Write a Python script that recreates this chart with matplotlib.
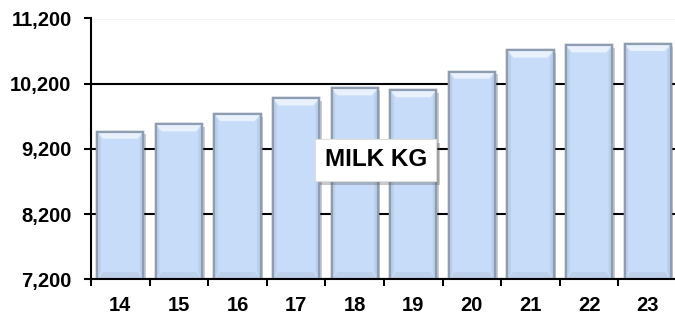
import numpy as np
import matplotlib
matplotlib.use("Agg")
import matplotlib.pyplot as plt
from matplotlib.patches import Polygon
from matplotlib import patheffects as pe

plt.rcParams['font.family'] = ['Liberation Sans', 'DejaVu Sans']

# data
categories = ['14', '15', '16', '17', '18', '19', '20', '21', '22', '23']
milk_kg = [9465, 9578, 9735, 9975, 10130, 10100, 10385, 10710, 10790, 10810]
y_ticks = [7200, 8200, 9200, 10200, 11200]
title = 'MILK KG'

fig = plt.figure(figsize=(6.75, 3.18), dpi=100)
ax = fig.add_axes([91 / 675, 38.7 / 318, 586 / 675, 260.8 / 318])

x = np.arange(len(categories))
width = 0.785
face = '#C6DCF8'
edge = '#8E9DB2'

bars = ax.bar(x, milk_kg, width=width, bottom=0, color=face, edgecolor=edge,
              linewidth=1.6, zorder=3)
for b in bars:
    b.set_path_effects([pe.withSimplePatchShadow(offset=(2, -2), shadow_rgbFace='#000000',
                                                  alpha=0.2), pe.Normal()])

# bevel highlights built from each bar's own geometry
ymin = y_ticks[0]
for b in bars:
    x0 = b.get_x()
    x1 = x0 + b.get_width()
    top = b.get_height()
    dx = 0.1
    dy = 110
    ax.add_patch(Polygon([[x0, top], [x1, top], [x1 - dx, top - dy], [x0 + dx, top - dy]],
                         closed=True, facecolor='#E8F1FD', edgecolor='none', zorder=4))
    ax.add_patch(Polygon([[x0, top], [x0 + 0.06, top - dy], [x0 + 0.06, ymin + dy], [x0, ymin]],
                         closed=True, facecolor='#BACFEA', edgecolor='none', zorder=4))
    ax.add_patch(Polygon([[x1, top], [x1 - 0.06, top - dy], [x1 - 0.06, ymin + dy], [x1, ymin]],
                         closed=True, facecolor='#BACFEA', edgecolor='none', zorder=4))
    ax.add_patch(Polygon([[x0, ymin], [x1, ymin], [x1 - dx, ymin + dy], [x0 + dx, ymin + dy]],
                         closed=True, facecolor='#BDD1EB', edgecolor='none', zorder=4))
    ax.add_patch(Polygon([[x0, ymin], [x1, ymin], [x1, top], [x0, top]], closed=True,
                         facecolor='none', edgecolor=edge, linewidth=1.6, zorder=5))

ax.set_ylim(y_ticks[0], y_ticks[-1])
ax.set_xlim(-0.5, len(categories) - 0.5)
ax.set_yticks(y_ticks)
ax.set_yticklabels([f'{v:,}' for v in y_ticks], fontsize=14.5, fontweight='bold')
ax.set_xticks(x)
ax.set_xticklabels(categories, fontsize=14.5, fontweight='bold')
ax.set_xticks(np.arange(len(categories) + 1) - 0.5, minor=True)
ax.tick_params(axis='x', which='major', length=0, pad=12)
ax.tick_params(axis='x', which='minor', length=5, width=1.5, direction='out')
ax.tick_params(axis='y', length=5, width=1.5, pad=9)

ax.grid(axis='y', color='black', linewidth=1.5, zorder=1)
ax.set_axisbelow(True)
for s in ['top', 'right']:
    ax.spines[s].set_visible(False)
ax.spines['left'].set_linewidth(1.5)
ax.spines['bottom'].set_linewidth(1.5)
ax.spines['left'].set_zorder(6)
ax.spines['bottom'].set_zorder(6)

t = ax.text(0.486, 0.458, title, transform=ax.transAxes, ha='center', va='center',
            fontsize=17.5, fontweight='bold', zorder=10,
            bbox=dict(boxstyle='square,pad=0.38', facecolor='white', edgecolor='#DDDDDD',
                      linewidth=0.8))
t.get_bbox_patch().set_path_effects([pe.withSimplePatchShadow(offset=(3, -3), alpha=0.3),
                                     pe.Normal()])

fig.savefig('out.png', dpi=100)
